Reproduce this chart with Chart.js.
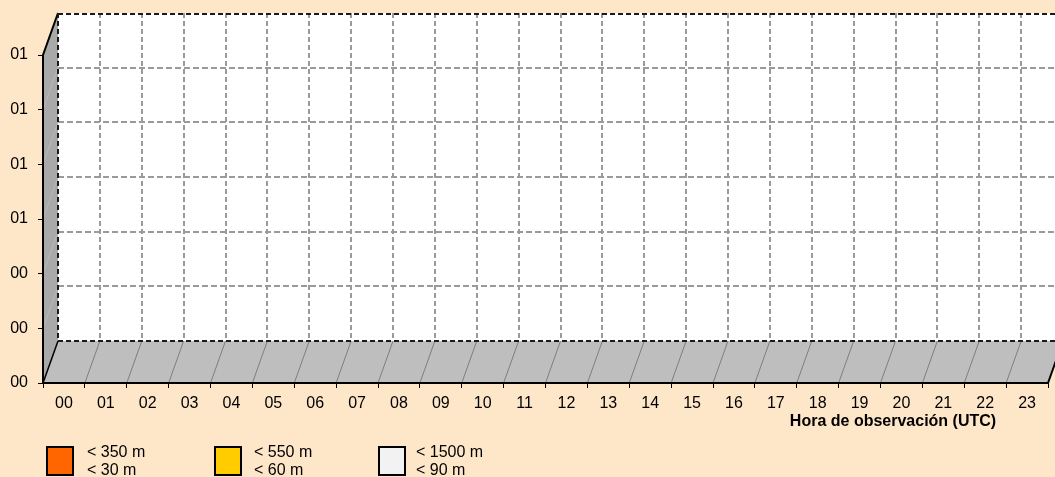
<!DOCTYPE html>
<html>
<head>
<meta charset="utf-8">
<script src="https://cdn.jsdelivr.net/npm/chart.js@4/dist/chart.umd.min.js"></script>
<style>
  html, body { margin: 0; padding: 0; background: #FEE6C9; }
  #wrap { position: relative; width: 1055px; height: 477px; overflow: hidden; background: #FEE6C9; }
  #c { position: absolute; left: 0; top: 0; }
  .lg { position: absolute; top: 446px; font: 16px "Liberation Sans", Arial, sans-serif; color: #000; }
  .sw { position: absolute; left: 0; top: 0; width: 24px; height: 26px; border: 2px solid #000; }
  .tx { position: absolute; top: -3px; line-height: 18px; white-space: nowrap; }
</style>
</head>
<body>
<div id="wrap">
  <canvas id="c" width="1055" height="477"></canvas>
  <div id="legend"></div>
</div>
<script>
// ---- data ----
const hours = ["00","01","02","03","04","05","06","07","08","09","10","11","12","13","14","15","16","17","18","19","20","21","22","23"];
const seriesLabels = [["< 350 m", "< 30 m"], ["< 550 m", "< 60 m"], ["< 1500 m", "< 90 m"]];
const seriesColors = ["#FF6600", "#FFCC00", "#F2F2F2"];
const seriesA = [0,0,0,0,0,0,0,0,0,0,0,0,0,0,0,0,0,0,0,0,0,0,0,0];
const seriesB = [0,0,0,0,0,0,0,0,0,0,0,0,0,0,0,0,0,0,0,0,0,0,0,0];
const seriesC = [0,0,0,0,0,0,0,0,0,0,0,0,0,0,0,0,0,0,0,0,0,0,0,0];
const yMin = 0, yMax = 1.2, yStep = 0.2;
const xTitle = "Hora de observación (UTC)";

const DX = 15, DY = -42;
const FONT = '"Liberation Sans", Arial, sans-serif';

const wallsPlugin = {
  id: 'walls',
  beforeDraw(chart) {
    const ctx = chart.ctx;
    const a = chart.chartArea;
    const xs = chart.scales.x, ys = chart.scales.y;
    const L = a.left, R = a.right, T = a.top, B = a.bottom;
    ctx.save();
    // back wall
    ctx.fillStyle = '#FFFFFF';
    ctx.fillRect(L + DX, T + DY, R - L, B - T);
    const n = xs.ticks.length;
    const bounds = [];
    for (let i = 0; i <= n; i++) bounds.push(xs.getPixelForValue(i - 0.5));
    // back gridlines
    ctx.strokeStyle = '#9A9A9A';
    ctx.lineWidth = 2;
    ctx.setLineDash([6, 3]);
    ys.ticks.forEach(t => {
      const y = Math.round(ys.getPixelForValue(t.value) + DY);
      if (t.value <= yMin || t.value >= yMax) return;
      ctx.beginPath(); ctx.moveTo(L + DX, y); ctx.lineTo(R + DX, y); ctx.stroke();
    });
    ctx.setLineDash([5, 3]);
    bounds.forEach((x, i) => {
      if (i === 0) return;
      ctx.beginPath(); ctx.moveTo(Math.round(x + DX), T + DY); ctx.lineTo(Math.round(x + DX), B + DY); ctx.stroke();
    });
    ctx.setLineDash([]);
    // left wall
    ctx.fillStyle = '#A9A9A9';
    ctx.beginPath();
    ctx.moveTo(L, B); ctx.lineTo(L, T); ctx.lineTo(L + DX, T + DY); ctx.lineTo(L + DX, B + DY); ctx.closePath();
    ctx.fill();
    ctx.strokeStyle = '#B9B9B9'; ctx.lineWidth = 1;
    ys.ticks.forEach(t => {
      const y = ys.getPixelForValue(t.value);
      if (t.value <= yMin) return;
      ctx.beginPath(); ctx.moveTo(L, y); ctx.lineTo(L + DX, y + DY); ctx.stroke();
    });
    // floor
    ctx.fillStyle = '#BEBEBE';
    ctx.beginPath();
    ctx.moveTo(L, B); ctx.lineTo(R, B); ctx.lineTo(R + DX, B + DY); ctx.lineTo(L + DX, B + DY); ctx.closePath();
    ctx.fill();
    ctx.strokeStyle = '#7E7E7E'; ctx.lineWidth = 1;
    bounds.forEach((x, i) => {
      if (i === n || i === 0) return;
      ctx.beginPath(); ctx.moveTo(x, B); ctx.lineTo(x + DX, B + DY); ctx.stroke();
    });
    ctx.strokeStyle = '#000'; ctx.lineWidth = 2;
    ctx.beginPath(); ctx.moveTo(R, B); ctx.lineTo(R + DX, B + DY); ctx.stroke();
    ctx.beginPath(); ctx.moveTo(L, T); ctx.lineTo(L + DX, T + DY); ctx.stroke();
    ctx.lineWidth = 1.5;
    ctx.beginPath(); ctx.moveTo(L, B); ctx.lineTo(L + DX, B + DY); ctx.stroke();
    // back wall dashed borders
    ctx.setLineDash([5, 3]);
    ctx.strokeStyle = '#1A1A1A'; ctx.lineWidth = 2;
    ctx.beginPath(); ctx.moveTo(L + DX, T + DY + 1); ctx.lineTo(R + DX, T + DY + 1); ctx.stroke();
    ctx.beginPath(); ctx.moveTo(L + DX, T + DY); ctx.lineTo(L + DX, B + DY); ctx.stroke();
    ctx.beginPath(); ctx.moveTo(L + DX, B + DY); ctx.lineTo(R + DX, B + DY); ctx.stroke();
    ctx.setLineDash([]);
    ctx.restore();
  },
  afterDraw(chart) {
    const ctx = chart.ctx;
    ctx.save();
    ctx.fillStyle = '#000';
    ctx.font = 'bold 16px ' + FONT;
    ctx.textAlign = 'center';
    ctx.textBaseline = 'middle';
    ctx.fillText(chart.options.plugins.walls.title, 893, 422);
    ctx.restore();
  }
};

const chart = new Chart(document.getElementById('c'), {
  type: 'bar',
  data: {
    labels: hours,
    datasets: [
      { label: seriesLabels[0], data: seriesA, backgroundColor: seriesColors[0], borderWidth: 0 },
      { label: seriesLabels[1], data: seriesB, backgroundColor: seriesColors[1], borderWidth: 0 },
      { label: seriesLabels[2], data: seriesC, backgroundColor: seriesColors[2], borderWidth: 0 }
    ]
  },
  options: {
    responsive: false,
    animation: false,
    events: [],
    layout: { padding: { left: 0, right: 7, top: 55, bottom: 0 } },
    plugins: { legend: { display: false }, tooltip: { enabled: false }, walls: { title: xTitle } },
    scales: {
      x: {
        afterFit(s) { s.height = 94; },
        grid: { display: true, drawOnChartArea: false, drawTicks: true, tickLength: 5, color: '#000', lineWidth: 1, offset: true },
        border: { display: true, color: '#000', width: 2 },
        ticks: { color: '#000', font: { family: FONT, size: 16 }, padding: 6, maxRotation: 0, autoSkip: false }
      },
      y: {
        min: yMin, max: yMax,
        afterFit(s) { s.width = 43; },
        grid: { display: true, drawOnChartArea: false, drawTicks: true, tickLength: 5, color: '#000', lineWidth: 1 },
        border: { display: true, color: '#000', width: 2 },
        ticks: {
          stepSize: yStep, color: '#000', font: { family: FONT, size: 16 }, padding: 10,
          callback: v => String(Math.round(v)).padStart(2, '0')
        }
      }
    }
  },
  plugins: [wallsPlugin]
});

// HTML legend built from datasets
const legendPos = [{ sw: 46, tx: 87 }, { sw: 214, tx: 254 }, { sw: 378, tx: 416 }];
const lg = document.getElementById('legend');
chart.data.datasets.forEach((ds, i) => {
  const d = document.createElement('div');
  d.className = 'lg';
  d.style.left = legendPos[i].sw + 'px';
  const sw = document.createElement('div');
  sw.className = 'sw';
  sw.style.background = ds.backgroundColor;
  d.appendChild(sw);
  const tx = document.createElement('div');
  tx.className = 'tx';
  tx.style.left = (legendPos[i].tx - legendPos[i].sw) + 'px';
  tx.innerHTML = ds.label.map(s => s.replace(/</g, '&lt;')).join('<br>');
  d.appendChild(tx);
  lg.appendChild(d);
});
</script>
</body>
</html>
